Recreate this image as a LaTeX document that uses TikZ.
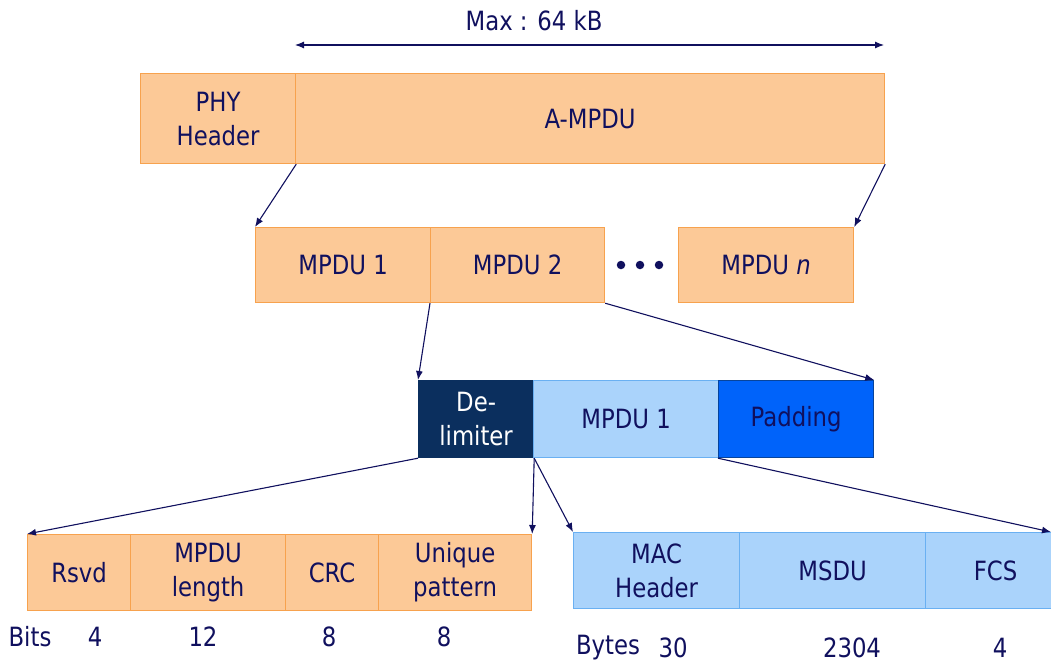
\documentclass[tikz,border=0pt]{standalone}
\usepackage{fontspec}
\setmainfont{DejaVu Sans}[FakeStretch=0.86]
\usetikzlibrary{arrows.meta}
\definecolor{navy}{HTML}{10105E}
\definecolor{orfill}{HTML}{FCC997}
\definecolor{ordraw}{HTML}{F7A24E}
\definecolor{bluefill}{HTML}{AAD3FB}
\definecolor{bluedraw}{HTML}{6AB0F2}
\definecolor{delimfill}{HTML}{0B2F5E}
\definecolor{padfill}{HTML}{0063FA}
\tikzset{
  fld/.style={draw=ordraw, fill=orfill, line width=1.2pt, inner sep=0pt, anchor=north west,
    text=navy, font=\fontsize{26.5}{34}\selectfont, align=center},
  bfld/.style={fld, draw=bluedraw, fill=bluefill},
  arr/.style={draw=navy, line width=1.1pt, -{Latex[length=9pt,width=7pt]}},
  lbl/.style={text=navy, font=\fontsize{26.5}{30}\selectfont, inner sep=0pt},
  dot/.style={circle, fill=navy, inner sep=0pt, minimum size=8.5pt}
}
\begin{document}
\begin{tikzpicture}[x=1pt,y=-1pt]
\useasboundingbox (0,0) rectangle (1051,664);
\clip (0,0) rectangle (1051,664);
% top row
\node[fld, minimum width=155pt, minimum height=90pt] (phy) at (140,73) {PHY\\Header};
\node[fld, minimum width=589pt, minimum height=90pt] (ampdu) at (295,73) {A-MPDU};
\coordinate (ml) at (295,45);
\coordinate (mr) at (884,45);
\draw[draw=navy, line width=1.1pt, {Latex[length=9pt,width=7pt]}-{Latex[length=9pt,width=7pt]}] (ml) -- (mr);
\node[lbl] (max) at (534,21) {Max : 64 kB};
% middle row
\node[fld, minimum width=175pt, minimum height=75pt] (m1) at (255,227) {MPDU 1};
\node[fld, minimum width=174pt, minimum height=75pt] (m2) at (430,227) {MPDU 2};
\node[dot] (d1) at (621,265) {};
\node[dot] (d2) at (640,265) {};
\node[dot] (d3) at (659,265) {};
\node[fld, minimum width=175pt, minimum height=75pt] (mn) at (678,227) {MPDU \textit{n}};
\draw[arr] (phy.south east) -- (m1.north west);
\draw[arr] (ampdu.south east) -- (mn.north east);
% third row
\node[fld, draw=delimfill, fill=delimfill, text=white, minimum width=115pt, minimum height=77pt] (delim) at (418,380) {De-\\limiter};
\node[bfld, minimum width=185pt, minimum height=77pt] (mp) at (533,380) {MPDU 1};
\node[fld, draw=delimfill!60!padfill, fill=padfill, minimum width=155pt, minimum height=77pt] (pad) at (718,380) {Padding};
\draw[arr] (m2.south west) -- (delim.north west);
\draw[arr] (m2.south east) -- (pad.north east);
% bottom left
\node[fld, minimum width=103pt, minimum height=76pt] (rsvd) at (27,534) {Rsvd};
\node[fld, minimum width=155pt, minimum height=76pt] (len) at (130,534) {MPDU\\length};
\node[fld, minimum width=93pt, minimum height=76pt] (crc) at (285,534) {CRC};
\node[fld, minimum width=153pt, minimum height=76pt] (uniq) at (378,534) {Unique\\pattern};
% bottom right
\node[bfld, minimum width=166pt, minimum height=76pt] (mac) at (573,532) {MAC\\Header};
\node[bfld, minimum width=186pt, minimum height=76pt] (msdu) at (739,532) {MSDU};
\node[bfld, minimum width=140pt, minimum height=76pt] (fcs) at (925,532) {FCS};
\coordinate (fcsin) at (1051,532);
\draw[arr] (delim.south west) -- (rsvd.north west);
\draw[arr] (delim.south east) -- (uniq.north east);
\draw[arr] (delim.south east) -- (mac.north west);
\draw[arr] (pad.south west) -- (fcsin);
% size labels
\node[lbl] (bits) at (30,637) {Bits};
\node[lbl] (b1) at (95,637) {4};
\node[lbl] (b2) at (203,637) {12};
\node[lbl] (b3) at (329,637) {8};
\node[lbl] (b4) at (444,637) {8};
\node[lbl] (bytes) at (608,648) {Bytes};
\node[lbl] (y1) at (673,648) {30};
\node[lbl] (y2) at (852,648) {2304};
\node[lbl] (y3) at (1000,648) {4};
\end{tikzpicture}
\end{document}
